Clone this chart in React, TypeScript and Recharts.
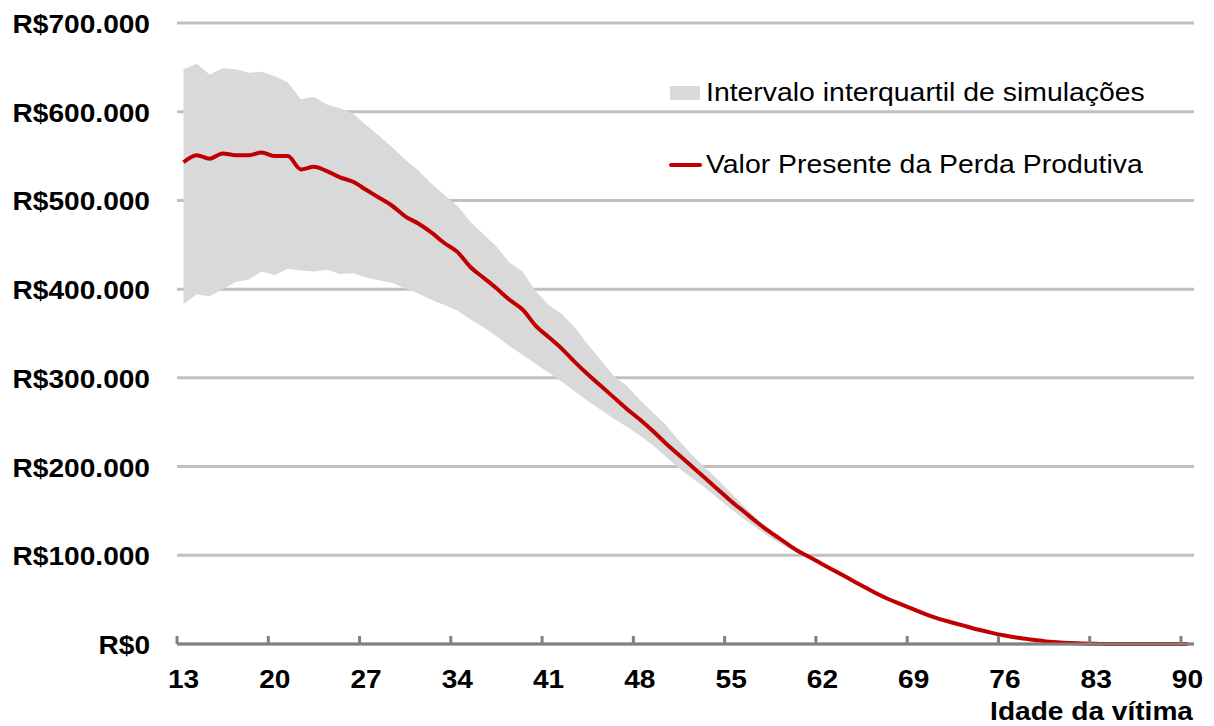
import { ComposedChart, Area, Line, XAxis, YAxis, CartesianGrid, Legend } from 'recharts'

// idade da vítima (anos)
const ages = [
  13, 14, 15, 16, 17, 18, 19, 20, 21, 22, 23, 24, 25, 26, 27, 28, 29, 30, 31, 32,
  33, 34, 35, 36, 37, 38, 39, 40, 41, 42, 43, 44, 45, 46, 47, 48, 49, 50, 51, 52,
  53, 54, 55, 56, 57, 58, 59, 60, 61, 62, 63, 64, 65, 66, 67, 68, 69, 70, 71, 72,
  73, 74, 75, 76, 77, 78, 79, 80, 81, 82, 83, 84, 85, 86, 87, 88, 89, 90,
]

// valor presente da perda produtiva, em R$ mil
const valorPresente = [
  543, 551, 547, 553, 551, 551, 554, 550, 550, 535, 538, 533, 526, 521, 512, 503, 494, 482, 474, 464,
  452, 442, 425, 413, 401, 388, 377, 359, 346, 333, 318, 304, 291, 278, 265, 253, 240, 226, 213, 200,
  187, 174, 161, 149, 137, 126, 116, 106, 98, 90, 82, 74, 66, 58, 51, 45, 39, 33, 28, 24,
  20, 16, 12.5, 9.5, 7, 5, 3.2, 2, 1.1, 0.5, 0.2, 0, 0, 0, 0, 0, 0, 0,
]

// quartis das simulações (R$ mil), idades 13 a 62; depois a faixa colapsa na linha
const quartilSuperior = [
  648, 654, 642, 649, 648, 644, 645, 640, 633, 614, 617, 608, 604, 598, 585, 573, 560, 546, 534, 519,
  506, 494, 476, 462, 448, 430, 420, 398, 382, 372, 357, 338, 320, 302, 291, 275, 261, 247, 229, 213,
  199, 185, 170, 155, 141, 129, 118, 108, 99, 90,
]
const quartilInferior = [
  383, 394, 392, 400, 408, 411, 420, 416, 423, 421, 420, 422, 417, 418, 413, 410, 407, 401, 395, 388,
  382, 376, 366, 357, 347, 336, 326, 316, 306, 296, 285, 274, 264, 254, 245, 235, 224, 211, 198, 187,
  176, 164, 152, 141, 130, 120, 111, 103, 96, 89,
]

const yTicks = [0, 100000, 200000, 300000, 400000, 500000, 600000, 700000]
const xTicks = [13, 20, 27, 34, 41, 48, 55, 62, 69, 76, 83, 90]

const data = ages.map((age, i) => {
  const v = valorPresente[i] * 1000
  const faixa =
    i < quartilSuperior.length ? [quartilInferior[i] * 1000, quartilSuperior[i] * 1000] : [v, v]
  return { age, valor: v, faixa }
})

const FONT = '"Liberation Sans", Arial, Helvetica, sans-serif'
const HALF_STEP = 6.5
// the original text is a little wider than its height suggests
const STRETCH = 1.06

const formatReais = (v: number) => (v === 0 ? 'R$0' : `R$${v / 1000}.000`)

function BoldText({ x, y, anchor, children }: any) {
  return (
    <text
      transform={`translate(${x} ${y}) scale(${STRETCH} 1)`}
      textAnchor={anchor}
      fontFamily={FONT}
      fontWeight="bold"
      fontSize={26.5}
      fill="#000"
    >
      {children}
    </text>
  )
}

function AgeTick({ x, y, payload }: any) {
  return (
    <g>
      <line x1={x - HALF_STEP} x2={x - HALF_STEP} y1={y - 8} y2={y} stroke="#808080" strokeWidth={3} />
      <BoldText x={x} y={y + 44} anchor="middle">
        {payload.value}
      </BoldText>
    </g>
  )
}

function ValueTick({ x, y, payload }: any) {
  return (
    <BoldText x={x - 27} y={y + 10} anchor="end">
      {formatReais(payload.value)}
    </BoldText>
  )
}

function AxisTitle({ viewBox }: any) {
  return (
    <BoldText x={viewBox.x + viewBox.width - 1} y={viewBox.y + 76} anchor="end">
      Idade da vítima
    </BoldText>
  )
}

function LegendBox() {
  const textProps = { fontFamily: FONT, fontSize: 25, fill: '#000' }
  return (
    <svg width={540} height={120} style={{ display: 'block' }}>
      <rect x={10} y={16} width={30} height={14} fill="#d9d9d9" />
      <text transform="translate(46 31) scale(1.136 1)" {...textProps}>
        Intervalo interquartil de simulações
      </text>
      <line x1={11} x2={40} y1={95} y2={95} stroke="#c00000" strokeWidth={4} strokeLinecap="round" />
      <text transform="translate(46 103) scale(1.136 1)" {...textProps}>
        Valor Presente da Perda Produtiva
      </text>
    </svg>
  )
}

export default function App() {
  return (
    <div style={{ width: 1214, height: 726, background: '#fff' }}>
      <style>{'body{margin:0}'}</style>
      <ComposedChart width={1214} height={726} data={data} margin={{ top: 23, right: 20, left: 0, bottom: 0 }}>
        <CartesianGrid vertical={false} stroke="#c0c0c0" strokeWidth={3} />
        <XAxis
          dataKey="age"
          type="number"
          domain={[12.5, 90.5]}
          ticks={xTicks}
          interval={0}
          height={82}
          tickSize={0}
          tickMargin={0}
          tickLine={false}
          axisLine={{ stroke: '#808080', strokeWidth: 3 }}
          tick={<AgeTick />}
          label={<AxisTitle />}
        />
        <YAxis
          domain={[0, 700000]}
          ticks={yTicks}
          width={177}
          tickSize={0}
          tickMargin={0}
          axisLine={false}
          tickLine={false}
          tick={<ValueTick />}
        />
        <Legend
          layout="vertical"
          align="center"
          verticalAlign="middle"
          content={<LegendBox />}
          wrapperStyle={{ position: 'absolute', left: 660, top: 70, width: 540, height: 120 }}
        />
        <Area
          type="linear"
          dataKey="faixa"
          name="Intervalo interquartil de simulações"
          fill="#d9d9d9"
          fillOpacity={1}
          stroke="none"
          isAnimationActive={false}
        />
        <Line
          type="monotone"
          dataKey="valor"
          name="Valor Presente da Perda Produtiva"
          stroke="#c00000"
          strokeWidth={4}
          dot={false}
          activeDot={false}
          isAnimationActive={false}
        />
      </ComposedChart>
    </div>
  )
}
